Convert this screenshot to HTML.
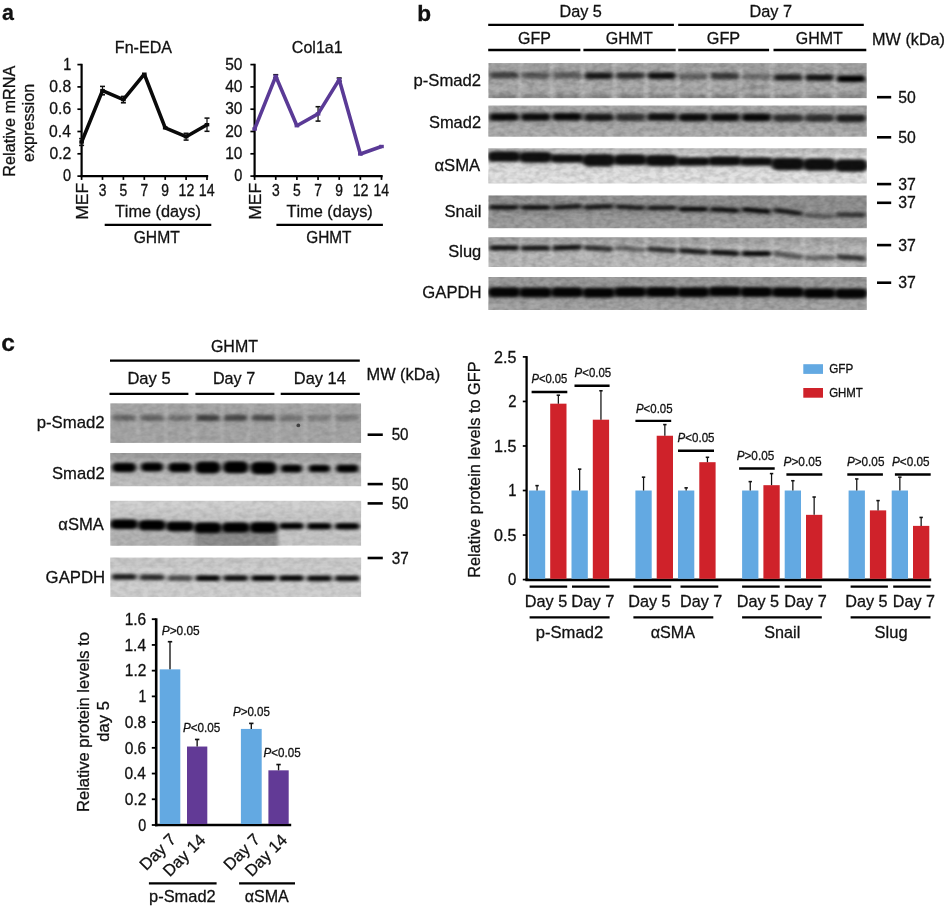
<!DOCTYPE html>
<html lang="en"><head><meta charset="utf-8"><title>Figure</title>
<style>
html,body{margin:0;padding:0;background:#fff;}
body{width:946px;height:906px;overflow:hidden;}
svg{display:block;font-family:"Liberation Sans",Arial,Helvetica,sans-serif;font-kerning:none;}
svg text{font-kerning:none;white-space:pre;}
</style></head><body>
<svg width="946" height="906" viewBox="0 0 946 906">
<defs>
<filter id="noiseD" x="0" y="0" width="100%" height="100%"><feTurbulence type="fractalNoise" baseFrequency="0.14 0.22" numOctaves="2" seed="4" result="t"/><feColorMatrix in="t" type="matrix" values="0 0 0 0 0  0 0 0 0 0  0 0 0 0 0  2.2 0 0 0 -0.75"/></filter>
<filter id="noiseL" x="0" y="0" width="100%" height="100%"><feTurbulence type="fractalNoise" baseFrequency="0.16 0.25" numOctaves="2" seed="11" result="t"/><feColorMatrix in="t" type="matrix" values="0 0 0 0 1  0 0 0 0 1  0 0 0 0 1  0 2.2 0 0 -0.75"/></filter>
<filter id="bl05" x="-50%" y="-50%" width="200%" height="200%"><feGaussianBlur stdDeviation="0.5"/></filter>
<filter id="bl1" x="-30%" y="-150%" width="160%" height="400%"><feGaussianBlur stdDeviation="2.0 1.6"/></filter>
<filter id="bls" x="-200%" y="-10%" width="500%" height="120%"><feGaussianBlur stdDeviation="1.8 0.1"/></filter>
<filter id="bl3" x="-10%" y="-100%" width="120%" height="300%"><feGaussianBlur stdDeviation="2.5"/></filter>
</defs>
<rect width="946" height="906" fill="#fff"/>
<text transform="translate(1.92 20.40) scale(0.9377 1.0000)" font-size="22.80" fill="#111" stroke="#111" stroke-width="0.30"><tspan font-weight="bold">a</tspan></text>
<text transform="translate(417.26 20.50) scale(1.0100 1.0000)" font-size="22.40" fill="#111" stroke="#111" stroke-width="0.28"><tspan font-weight="bold">b</tspan></text>
<text transform="translate(1.29 351.30) scale(1.0696 1.0000)" font-size="23.00" fill="#111" stroke="#111" stroke-width="0.26"><tspan font-weight="bold">c</tspan></text>
<line x1="81.60" y1="63.80" x2="81.60" y2="177.10" stroke="#000" stroke-width="2.20" stroke-linecap="butt"/>
<line x1="80.50" y1="176.10" x2="208.20" y2="176.10" stroke="#000" stroke-width="2.20" stroke-linecap="butt"/>
<line x1="77.40" y1="176.10" x2="81.60" y2="176.10" stroke="#000" stroke-width="1.70" stroke-linecap="butt"/>
<text transform="translate(62.96 181.30) scale(0.9116 1.0000)" font-size="15.90" fill="#111" stroke="#111" stroke-width="0.31"><tspan>0</tspan></text>
<line x1="77.40" y1="153.80" x2="81.60" y2="153.80" stroke="#000" stroke-width="1.70" stroke-linecap="butt"/>
<text transform="translate(49.43 159.00) scale(0.9865 1.0000)" font-size="15.90" fill="#111" stroke="#111" stroke-width="0.28"><tspan>0.2</tspan></text>
<line x1="77.40" y1="131.50" x2="81.60" y2="131.50" stroke="#000" stroke-width="1.70" stroke-linecap="butt"/>
<text transform="translate(49.09 136.70) scale(0.9872 1.0000)" font-size="15.90" fill="#111" stroke="#111" stroke-width="0.28"><tspan>0.4</tspan></text>
<line x1="77.40" y1="109.20" x2="81.60" y2="109.20" stroke="#000" stroke-width="1.70" stroke-linecap="butt"/>
<text transform="translate(49.33 114.40) scale(0.9867 1.0000)" font-size="15.90" fill="#111" stroke="#111" stroke-width="0.28"><tspan>0.6</tspan></text>
<line x1="77.40" y1="86.90" x2="81.60" y2="86.90" stroke="#000" stroke-width="1.70" stroke-linecap="butt"/>
<text transform="translate(49.32 92.10) scale(0.9867 1.0000)" font-size="15.90" fill="#111" stroke="#111" stroke-width="0.28"><tspan>0.8</tspan></text>
<line x1="77.40" y1="64.60" x2="81.60" y2="64.60" stroke="#000" stroke-width="1.70" stroke-linecap="butt"/>
<text transform="translate(63.20 69.80) scale(0.8987 1.0000)" font-size="15.90" fill="#111" stroke="#111" stroke-width="0.31"><tspan>1</tspan></text>
<line x1="81.60" y1="176.10" x2="81.60" y2="179.90" stroke="#000" stroke-width="1.70" stroke-linecap="butt"/>
<line x1="102.50" y1="176.10" x2="102.50" y2="179.90" stroke="#000" stroke-width="1.70" stroke-linecap="butt"/>
<line x1="123.40" y1="176.10" x2="123.40" y2="179.90" stroke="#000" stroke-width="1.70" stroke-linecap="butt"/>
<line x1="144.30" y1="176.10" x2="144.30" y2="179.90" stroke="#000" stroke-width="1.70" stroke-linecap="butt"/>
<line x1="165.20" y1="176.10" x2="165.20" y2="179.90" stroke="#000" stroke-width="1.70" stroke-linecap="butt"/>
<line x1="186.10" y1="176.10" x2="186.10" y2="179.90" stroke="#000" stroke-width="1.70" stroke-linecap="butt"/>
<line x1="207.00" y1="176.10" x2="207.00" y2="179.90" stroke="#000" stroke-width="1.70" stroke-linecap="butt"/>
<text transform="translate(114.83 53.00) scale(0.9450 1.0000)" font-size="17.01" fill="#111" stroke="#111" stroke-width="0.30"><tspan>Fn-EDA</tspan></text>
<line x1="102.50" y1="86.40" x2="102.50" y2="94.80" stroke="#111" stroke-width="1.25" stroke-linecap="butt"/>
<line x1="100.00" y1="86.40" x2="105.00" y2="86.40" stroke="#111" stroke-width="1.55" stroke-linecap="butt"/>
<line x1="100.00" y1="94.80" x2="105.00" y2="94.80" stroke="#111" stroke-width="1.55" stroke-linecap="butt"/>
<line x1="123.40" y1="96.40" x2="123.40" y2="102.80" stroke="#111" stroke-width="1.25" stroke-linecap="butt"/>
<line x1="120.90" y1="96.40" x2="125.90" y2="96.40" stroke="#111" stroke-width="1.55" stroke-linecap="butt"/>
<line x1="120.90" y1="102.80" x2="125.90" y2="102.80" stroke="#111" stroke-width="1.55" stroke-linecap="butt"/>
<line x1="186.10" y1="133.30" x2="186.10" y2="140.10" stroke="#111" stroke-width="1.25" stroke-linecap="butt"/>
<line x1="183.60" y1="133.30" x2="188.60" y2="133.30" stroke="#111" stroke-width="1.55" stroke-linecap="butt"/>
<line x1="183.60" y1="140.10" x2="188.60" y2="140.10" stroke="#111" stroke-width="1.55" stroke-linecap="butt"/>
<line x1="207.00" y1="118.10" x2="207.00" y2="131.30" stroke="#111" stroke-width="1.25" stroke-linecap="butt"/>
<line x1="204.50" y1="118.10" x2="209.50" y2="118.10" stroke="#111" stroke-width="1.55" stroke-linecap="butt"/>
<line x1="204.50" y1="131.30" x2="209.50" y2="131.30" stroke="#111" stroke-width="1.55" stroke-linecap="butt"/>
<line x1="81.60" y1="138.60" x2="81.60" y2="145.40" stroke="#111" stroke-width="1.25" stroke-linecap="butt"/>
<line x1="79.10" y1="138.60" x2="84.10" y2="138.60" stroke="#111" stroke-width="1.55" stroke-linecap="butt"/>
<line x1="79.10" y1="145.40" x2="84.10" y2="145.40" stroke="#111" stroke-width="1.55" stroke-linecap="butt"/>
<polyline fill="none" stroke="#0a0a0a" stroke-width="3.6" stroke-linejoin="bevel" stroke-linecap="butt" points="81.60,142.00 102.50,90.60 123.40,99.60 144.30,74.20 165.20,127.80 186.10,136.70 207.00,124.70"/>
<rect x="79.30" y="140.30" width="4.6" height="3.4" fill="#0a0a0a"/>
<rect x="100.20" y="88.90" width="4.6" height="3.4" fill="#0a0a0a"/>
<rect x="121.10" y="97.90" width="4.6" height="3.4" fill="#0a0a0a"/>
<rect x="142.00" y="72.50" width="4.6" height="3.4" fill="#0a0a0a"/>
<rect x="162.90" y="126.10" width="4.6" height="3.4" fill="#0a0a0a"/>
<rect x="183.80" y="135.00" width="4.6" height="3.4" fill="#0a0a0a"/>
<rect x="204.70" y="123.00" width="4.6" height="3.4" fill="#0a0a0a"/>
<text transform="translate(98.67 195.60) scale(0.8799 1.0000)" font-size="15.80" fill="#111" stroke="#111" stroke-width="0.32"><tspan>3</tspan></text>
<text transform="translate(119.55 195.60) scale(0.8799 1.0000)" font-size="15.80" fill="#111" stroke="#111" stroke-width="0.32"><tspan>5</tspan></text>
<text transform="translate(140.45 195.60) scale(0.8747 1.0000)" font-size="15.80" fill="#111" stroke="#111" stroke-width="0.32"><tspan>7</tspan></text>
<text transform="translate(161.35 195.60) scale(0.8767 1.0000)" font-size="15.80" fill="#111" stroke="#111" stroke-width="0.32"><tspan>9</tspan></text>
<text transform="translate(178.58 195.60) scale(0.8924 1.0000)" font-size="15.80" fill="#111" stroke="#111" stroke-width="0.31"><tspan>12</tspan></text>
<text transform="translate(198.77 195.60) scale(0.8989 1.0000)" font-size="15.80" fill="#111" stroke="#111" stroke-width="0.31"><tspan>14</tspan></text>
<text transform="translate(88.00 218.40) rotate(-90.0) scale(1.0731 1.0000) translate(-1.35 0)" font-size="16.40" fill="#111" stroke="#111" stroke-width="0.26"><tspan>MEF</tspan></text>
<text transform="translate(114.88 217.40) scale(1.0441 1.0000)" font-size="15.60" fill="#111" stroke="#111" stroke-width="0.27"><tspan>Time (days)</tspan></text>
<line x1="104.70" y1="224.90" x2="211.30" y2="224.90" stroke="#000" stroke-width="2.30" stroke-linecap="butt"/>
<text transform="translate(133.66 243.00) scale(0.9331 1.0000)" font-size="16.80" fill="#111" stroke="#111" stroke-width="0.30"><tspan>GHMT</tspan></text>
<line x1="254.60" y1="63.80" x2="254.60" y2="177.10" stroke="#000" stroke-width="2.20" stroke-linecap="butt"/>
<line x1="253.50" y1="176.10" x2="382.70" y2="176.10" stroke="#000" stroke-width="2.20" stroke-linecap="butt"/>
<line x1="250.40" y1="176.10" x2="254.60" y2="176.10" stroke="#000" stroke-width="1.70" stroke-linecap="butt"/>
<text transform="translate(234.36 181.30) scale(0.9116 1.0000)" font-size="15.90" fill="#111" stroke="#111" stroke-width="0.31"><tspan>0</tspan></text>
<line x1="250.40" y1="153.80" x2="254.60" y2="153.80" stroke="#000" stroke-width="1.70" stroke-linecap="butt"/>
<text transform="translate(225.24 159.00) scale(0.9732 1.0000)" font-size="15.90" fill="#111" stroke="#111" stroke-width="0.29"><tspan>10</tspan></text>
<line x1="250.40" y1="131.50" x2="254.60" y2="131.50" stroke="#000" stroke-width="1.70" stroke-linecap="butt"/>
<text transform="translate(225.22 136.70) scale(0.9747 1.0000)" font-size="15.90" fill="#111" stroke="#111" stroke-width="0.29"><tspan>20</tspan></text>
<line x1="250.40" y1="109.20" x2="254.60" y2="109.20" stroke="#000" stroke-width="1.70" stroke-linecap="butt"/>
<text transform="translate(225.21 114.40) scale(0.9753 1.0000)" font-size="15.90" fill="#111" stroke="#111" stroke-width="0.29"><tspan>30</tspan></text>
<line x1="250.40" y1="86.90" x2="254.60" y2="86.90" stroke="#000" stroke-width="1.70" stroke-linecap="butt"/>
<text transform="translate(225.19 92.10) scale(0.9761 1.0000)" font-size="15.90" fill="#111" stroke="#111" stroke-width="0.29"><tspan>40</tspan></text>
<line x1="250.40" y1="64.60" x2="254.60" y2="64.60" stroke="#000" stroke-width="1.70" stroke-linecap="butt"/>
<text transform="translate(225.21 69.80) scale(0.9752 1.0000)" font-size="15.90" fill="#111" stroke="#111" stroke-width="0.29"><tspan>50</tspan></text>
<line x1="254.60" y1="176.10" x2="254.60" y2="179.90" stroke="#000" stroke-width="1.70" stroke-linecap="butt"/>
<line x1="275.75" y1="176.10" x2="275.75" y2="179.90" stroke="#000" stroke-width="1.70" stroke-linecap="butt"/>
<line x1="296.90" y1="176.10" x2="296.90" y2="179.90" stroke="#000" stroke-width="1.70" stroke-linecap="butt"/>
<line x1="318.05" y1="176.10" x2="318.05" y2="179.90" stroke="#000" stroke-width="1.70" stroke-linecap="butt"/>
<line x1="339.20" y1="176.10" x2="339.20" y2="179.90" stroke="#000" stroke-width="1.70" stroke-linecap="butt"/>
<line x1="360.35" y1="176.10" x2="360.35" y2="179.90" stroke="#000" stroke-width="1.70" stroke-linecap="butt"/>
<line x1="381.50" y1="176.10" x2="381.50" y2="179.90" stroke="#000" stroke-width="1.70" stroke-linecap="butt"/>
<text transform="translate(291.84 53.00) scale(0.9426 1.0000)" font-size="17.01" fill="#111" stroke="#111" stroke-width="0.30"><tspan>Col1a1</tspan></text>
<line x1="318.05" y1="106.70" x2="318.05" y2="121.10" stroke="#111" stroke-width="1.25" stroke-linecap="butt"/>
<line x1="315.55" y1="106.70" x2="320.55" y2="106.70" stroke="#111" stroke-width="1.55" stroke-linecap="butt"/>
<line x1="315.55" y1="121.10" x2="320.55" y2="121.10" stroke="#111" stroke-width="1.55" stroke-linecap="butt"/>
<line x1="275.75" y1="74.70" x2="275.75" y2="77.90" stroke="#111" stroke-width="1.25" stroke-linecap="butt"/>
<line x1="273.25" y1="74.70" x2="278.25" y2="74.70" stroke="#111" stroke-width="1.55" stroke-linecap="butt"/>
<line x1="273.25" y1="77.90" x2="278.25" y2="77.90" stroke="#111" stroke-width="1.55" stroke-linecap="butt"/>
<line x1="339.20" y1="78.00" x2="339.20" y2="81.20" stroke="#111" stroke-width="1.25" stroke-linecap="butt"/>
<line x1="336.70" y1="78.00" x2="341.70" y2="78.00" stroke="#111" stroke-width="1.55" stroke-linecap="butt"/>
<line x1="336.70" y1="81.20" x2="341.70" y2="81.20" stroke="#111" stroke-width="1.55" stroke-linecap="butt"/>
<polyline fill="none" stroke="#5a3a96" stroke-width="3.6" stroke-linejoin="bevel" stroke-linecap="butt" points="254.60,129.00 275.75,76.30 296.90,125.70 318.05,113.90 339.20,79.60 360.35,154.00 381.50,146.50"/>
<rect x="252.30" y="127.30" width="4.6" height="3.4" fill="#5a3a96"/>
<rect x="273.45" y="74.60" width="4.6" height="3.4" fill="#5a3a96"/>
<rect x="294.60" y="124.00" width="4.6" height="3.4" fill="#5a3a96"/>
<rect x="315.75" y="112.20" width="4.6" height="3.4" fill="#5a3a96"/>
<rect x="336.90" y="77.90" width="4.6" height="3.4" fill="#5a3a96"/>
<rect x="358.05" y="152.30" width="4.6" height="3.4" fill="#5a3a96"/>
<rect x="379.20" y="144.80" width="4.6" height="3.4" fill="#5a3a96"/>
<text transform="translate(271.92 195.60) scale(0.8799 1.0000)" font-size="15.80" fill="#111" stroke="#111" stroke-width="0.32"><tspan>3</tspan></text>
<text transform="translate(293.05 195.60) scale(0.8799 1.0000)" font-size="15.80" fill="#111" stroke="#111" stroke-width="0.32"><tspan>5</tspan></text>
<text transform="translate(314.20 195.60) scale(0.8747 1.0000)" font-size="15.80" fill="#111" stroke="#111" stroke-width="0.32"><tspan>7</tspan></text>
<text transform="translate(335.35 195.60) scale(0.8767 1.0000)" font-size="15.80" fill="#111" stroke="#111" stroke-width="0.32"><tspan>9</tspan></text>
<text transform="translate(352.66 195.60) scale(0.9052 1.0000)" font-size="15.80" fill="#111" stroke="#111" stroke-width="0.31"><tspan>12</tspan></text>
<text transform="translate(373.48 195.60) scale(0.8863 1.0000)" font-size="15.80" fill="#111" stroke="#111" stroke-width="0.32"><tspan>14</tspan></text>
<text transform="translate(260.80 218.40) rotate(-90.0) scale(1.0731 1.0000) translate(-1.35 0)" font-size="16.40" fill="#111" stroke="#111" stroke-width="0.26"><tspan>MEF</tspan></text>
<text transform="translate(286.48 217.40) scale(1.0491 1.0000)" font-size="15.60" fill="#111" stroke="#111" stroke-width="0.27"><tspan>Time (days)</tspan></text>
<line x1="276.40" y1="224.90" x2="382.90" y2="224.90" stroke="#000" stroke-width="2.30" stroke-linecap="butt"/>
<text transform="translate(306.18 243.00) scale(0.9165 1.0000)" font-size="16.80" fill="#111" stroke="#111" stroke-width="0.31"><tspan>GHMT</tspan></text>
<text transform="translate(14.60 175.40) rotate(-90.0) scale(0.9798 1.0000) translate(-1.36 0)" font-size="16.60" fill="#111" stroke="#111" stroke-width="0.29"><tspan>Relative mRNA</tspan></text>
<text transform="translate(33.90 161.40) rotate(-90.0) scale(0.9759 1.0000) translate(-0.71 0)" font-size="16.60" fill="#111" stroke="#111" stroke-width="0.29"><tspan>expression</tspan></text>
<clipPath id="cpb1"><rect x="488.30" y="63.10" width="378.50" height="35.20"/></clipPath>
<g clip-path="url(#cpb1)">
<rect x="488.30" y="63.10" width="378.50" height="35.20" fill="#a0a0a0" />
<rect x="483.30" y="82.00" width="388.50" height="12.00" fill="#b4b4b4" opacity="0.45" filter="url(#bl3)"/>
<rect x="517.84" y="60.10" width="4.0" height="41.20" fill="#cfcfcf" opacity="0.42" filter="url(#bls)"/>
<rect x="549.38" y="60.10" width="4.0" height="41.20" fill="#cfcfcf" opacity="0.42" filter="url(#bls)"/>
<rect x="580.92" y="60.10" width="4.0" height="41.20" fill="#cfcfcf" opacity="0.42" filter="url(#bls)"/>
<rect x="612.47" y="60.10" width="4.0" height="41.20" fill="#cfcfcf" opacity="0.42" filter="url(#bls)"/>
<rect x="644.01" y="60.10" width="4.0" height="41.20" fill="#cfcfcf" opacity="0.42" filter="url(#bls)"/>
<rect x="675.55" y="60.10" width="4.0" height="41.20" fill="#cfcfcf" opacity="0.42" filter="url(#bls)"/>
<rect x="707.09" y="60.10" width="4.0" height="41.20" fill="#cfcfcf" opacity="0.42" filter="url(#bls)"/>
<rect x="738.63" y="60.10" width="4.0" height="41.20" fill="#cfcfcf" opacity="0.42" filter="url(#bls)"/>
<rect x="770.17" y="60.10" width="4.0" height="41.20" fill="#cfcfcf" opacity="0.42" filter="url(#bls)"/>
<rect x="801.72" y="60.10" width="4.0" height="41.20" fill="#cfcfcf" opacity="0.42" filter="url(#bls)"/>
<rect x="833.26" y="60.10" width="4.0" height="41.20" fill="#cfcfcf" opacity="0.42" filter="url(#bls)"/>
<path d="M738 91 q12 -6 30 -4" stroke="#555" stroke-width="1.6" fill="none" opacity="0.6" filter="url(#bl1)"/>
<rect x="488.30" y="63.10" width="378.50" height="35.20" filter="url(#noiseD)" opacity="0.136"/>
<rect x="488.30" y="63.10" width="378.50" height="35.20" filter="url(#noiseL)" opacity="0.111"/>
<rect x="489.88" y="71.90" width="28.39" height="6.40" rx="3.20" fill="#000" opacity="0.61" filter="url(#bl1)" transform="rotate(0.0 504.07 75.10)"/>
<rect x="521.42" y="72.30" width="28.39" height="6.40" rx="3.20" fill="#000" opacity="0.46" filter="url(#bl1)" transform="rotate(0.0 535.61 75.50)"/>
<rect x="552.96" y="72.10" width="28.39" height="6.40" rx="3.20" fill="#000" opacity="0.44" filter="url(#bl1)" transform="rotate(0.0 567.15 75.30)"/>
<rect x="584.50" y="72.60" width="28.39" height="6.40" rx="3.20" fill="#000" opacity="0.86" filter="url(#bl1)" transform="rotate(0.0 598.70 75.80)"/>
<rect x="616.04" y="72.40" width="28.39" height="6.40" rx="3.20" fill="#000" opacity="0.73" filter="url(#bl1)" transform="rotate(0.0 630.24 75.60)"/>
<rect x="647.59" y="72.60" width="28.39" height="6.40" rx="3.20" fill="#000" opacity="0.90" filter="url(#bl1)" transform="rotate(0.0 661.78 75.80)"/>
<rect x="679.13" y="73.20" width="28.39" height="6.40" rx="3.20" fill="#000" opacity="0.40" filter="url(#bl1)" transform="rotate(0.0 693.32 76.40)"/>
<rect x="710.67" y="72.80" width="28.39" height="6.40" rx="3.20" fill="#000" opacity="0.66" filter="url(#bl1)" transform="rotate(0.0 724.86 76.00)"/>
<rect x="742.21" y="73.40" width="28.39" height="6.40" rx="3.20" fill="#000" opacity="0.33" filter="url(#bl1)" transform="rotate(0.0 756.40 76.60)"/>
<rect x="773.75" y="74.20" width="28.39" height="6.40" rx="3.20" fill="#000" opacity="0.81" filter="url(#bl1)" transform="rotate(0.0 787.95 77.40)"/>
<rect x="805.29" y="74.40" width="28.39" height="6.40" rx="3.20" fill="#000" opacity="0.88" filter="url(#bl1)" transform="rotate(0.0 819.49 77.60)"/>
<rect x="836.84" y="75.60" width="28.39" height="6.40" rx="3.20" fill="#000" opacity="1.00" filter="url(#bl1)" transform="rotate(0.0 851.03 78.80)"/>
<rect x="491.45" y="94.85" width="25.23" height="3.50" rx="1.75" fill="#000" opacity="0.22" filter="url(#bl1)" transform="rotate(0.0 504.07 96.60)"/>
<rect x="523.00" y="94.85" width="25.23" height="3.50" rx="1.75" fill="#000" opacity="0.22" filter="url(#bl1)" transform="rotate(0.0 535.61 96.60)"/>
<rect x="554.54" y="94.85" width="25.23" height="3.50" rx="1.75" fill="#000" opacity="0.22" filter="url(#bl1)" transform="rotate(0.0 567.15 96.60)"/>
<rect x="586.08" y="94.85" width="25.23" height="3.50" rx="1.75" fill="#000" opacity="0.22" filter="url(#bl1)" transform="rotate(0.0 598.70 96.60)"/>
<rect x="617.62" y="94.85" width="25.23" height="3.50" rx="1.75" fill="#000" opacity="0.22" filter="url(#bl1)" transform="rotate(0.0 630.24 96.60)"/>
<rect x="649.16" y="94.85" width="25.23" height="3.50" rx="1.75" fill="#000" opacity="0.22" filter="url(#bl1)" transform="rotate(0.0 661.78 96.60)"/>
<rect x="680.70" y="94.85" width="25.23" height="3.50" rx="1.75" fill="#000" opacity="0.22" filter="url(#bl1)" transform="rotate(0.0 693.32 96.60)"/>
<rect x="712.25" y="94.85" width="25.23" height="3.50" rx="1.75" fill="#000" opacity="0.22" filter="url(#bl1)" transform="rotate(0.0 724.86 96.60)"/>
<rect x="743.79" y="94.85" width="25.23" height="3.50" rx="1.75" fill="#000" opacity="0.22" filter="url(#bl1)" transform="rotate(0.0 756.40 96.60)"/>
<rect x="775.33" y="94.85" width="25.23" height="3.50" rx="1.75" fill="#000" opacity="0.22" filter="url(#bl1)" transform="rotate(0.0 787.95 96.60)"/>
<rect x="806.87" y="94.85" width="25.23" height="3.50" rx="1.75" fill="#000" opacity="0.22" filter="url(#bl1)" transform="rotate(0.0 819.49 96.60)"/>
<rect x="838.41" y="94.85" width="25.23" height="3.50" rx="1.75" fill="#000" opacity="0.22" filter="url(#bl1)" transform="rotate(0.0 851.03 96.60)"/>
</g>
<clipPath id="cpb2"><rect x="488.30" y="105.40" width="378.50" height="31.30"/></clipPath>
<g clip-path="url(#cpb2)">
<rect x="488.30" y="105.40" width="378.50" height="31.30" fill="#9e9e9e" />
<rect x="483.30" y="124.00" width="388.50" height="16.00" fill="#b4b4b4" opacity="0.60" filter="url(#bl3)"/>
<rect x="483.30" y="102.00" width="388.50" height="8.00" fill="#b0b0b0" opacity="0.50" filter="url(#bl3)"/>
<rect x="488.30" y="105.40" width="378.50" height="31.30" filter="url(#noiseD)" opacity="0.136"/>
<rect x="488.30" y="105.40" width="378.50" height="31.30" filter="url(#noiseL)" opacity="0.111"/>
<rect x="489.25" y="113.20" width="29.65" height="7.60" rx="3.80" fill="#000" opacity="0.95" filter="url(#bl1)" transform="rotate(0.0 504.07 117.00)"/>
<rect x="520.79" y="113.20" width="29.65" height="7.60" rx="3.80" fill="#000" opacity="0.92" filter="url(#bl1)" transform="rotate(0.0 535.61 117.00)"/>
<rect x="552.33" y="113.00" width="29.65" height="7.60" rx="3.80" fill="#000" opacity="0.95" filter="url(#bl1)" transform="rotate(0.0 567.15 116.80)"/>
<rect x="583.87" y="113.40" width="29.65" height="7.60" rx="3.80" fill="#000" opacity="0.85" filter="url(#bl1)" transform="rotate(0.0 598.70 117.20)"/>
<rect x="615.41" y="113.40" width="29.65" height="7.60" rx="3.80" fill="#000" opacity="0.70" filter="url(#bl1)" transform="rotate(0.0 630.24 117.20)"/>
<rect x="646.95" y="113.20" width="29.65" height="7.60" rx="3.80" fill="#000" opacity="0.90" filter="url(#bl1)" transform="rotate(0.0 661.78 117.00)"/>
<rect x="678.50" y="113.60" width="29.65" height="7.60" rx="3.80" fill="#000" opacity="0.92" filter="url(#bl1)" transform="rotate(0.0 693.32 117.40)"/>
<rect x="710.04" y="113.60" width="29.65" height="7.60" rx="3.80" fill="#000" opacity="0.92" filter="url(#bl1)" transform="rotate(0.0 724.86 117.40)"/>
<rect x="741.58" y="113.60" width="29.65" height="7.60" rx="3.80" fill="#000" opacity="0.95" filter="url(#bl1)" transform="rotate(0.0 756.40 117.40)"/>
<rect x="773.12" y="114.20" width="29.65" height="7.60" rx="3.80" fill="#000" opacity="0.72" filter="url(#bl1)" transform="rotate(0.0 787.95 118.00)"/>
<rect x="804.66" y="114.20" width="29.65" height="7.60" rx="3.80" fill="#000" opacity="0.70" filter="url(#bl1)" transform="rotate(0.0 819.49 118.00)"/>
<rect x="836.20" y="114.60" width="29.65" height="7.60" rx="3.80" fill="#000" opacity="0.82" filter="url(#bl1)" transform="rotate(0.0 851.03 118.40)"/>
</g>
<clipPath id="cpb3"><rect x="488.30" y="148.20" width="378.50" height="35.30"/></clipPath>
<g clip-path="url(#cpb3)">
<rect x="488.30" y="148.20" width="378.50" height="35.30" fill="#dadada" />
<rect x="483.30" y="143.00" width="388.50" height="10.00" fill="#9a9a9a" opacity="0.50" filter="url(#bl3)"/>
<rect x="483.30" y="172.00" width="388.50" height="18.00" fill="#e6e6e6" opacity="0.70" filter="url(#bl3)"/>
<rect x="488.30" y="148.20" width="378.50" height="35.30" filter="url(#noiseD)" opacity="0.136"/>
<rect x="488.30" y="148.20" width="378.50" height="35.30" filter="url(#noiseL)" opacity="0.111"/>
<rect x="487.04" y="151.35" width="34.06" height="10.50" rx="5.25" fill="#000" opacity="0.93" filter="url(#bl1)" transform="rotate(0.0 504.07 156.60)"/>
<rect x="518.58" y="151.70" width="34.06" height="11.00" rx="5.50" fill="#000" opacity="0.93" filter="url(#bl1)" transform="rotate(0.0 535.61 157.20)"/>
<rect x="550.12" y="154.35" width="34.06" height="8.50" rx="4.25" fill="#000" opacity="0.93" filter="url(#bl1)" transform="rotate(0.0 567.15 158.60)"/>
<rect x="581.66" y="153.95" width="34.06" height="12.50" rx="6.25" fill="#000" opacity="0.93" filter="url(#bl1)" transform="rotate(0.0 598.70 160.20)"/>
<rect x="613.20" y="154.30" width="34.06" height="11.00" rx="5.50" fill="#000" opacity="0.93" filter="url(#bl1)" transform="rotate(0.0 630.24 159.80)"/>
<rect x="644.75" y="154.65" width="34.06" height="11.50" rx="5.75" fill="#000" opacity="0.93" filter="url(#bl1)" transform="rotate(0.0 661.78 160.40)"/>
<rect x="676.29" y="157.35" width="34.06" height="8.50" rx="4.25" fill="#000" opacity="0.93" filter="url(#bl1)" transform="rotate(0.0 693.32 161.60)"/>
<rect x="707.83" y="156.25" width="34.06" height="9.50" rx="4.75" fill="#000" opacity="0.93" filter="url(#bl1)" transform="rotate(0.0 724.86 161.00)"/>
<rect x="739.37" y="157.35" width="34.06" height="8.50" rx="4.25" fill="#000" opacity="0.93" filter="url(#bl1)" transform="rotate(0.0 756.40 161.60)"/>
<rect x="770.91" y="157.75" width="34.06" height="12.50" rx="6.25" fill="#000" opacity="0.93" filter="url(#bl1)" transform="rotate(0.0 787.95 164.00)"/>
<rect x="802.45" y="158.35" width="34.06" height="12.50" rx="6.25" fill="#000" opacity="0.93" filter="url(#bl1)" transform="rotate(0.0 819.49 164.60)"/>
<rect x="834.00" y="159.35" width="34.06" height="12.50" rx="6.25" fill="#000" opacity="0.93" filter="url(#bl1)" transform="rotate(0.0 851.03 165.60)"/>
</g>
<clipPath id="cpb4"><rect x="488.30" y="195.30" width="378.50" height="33.00"/></clipPath>
<g clip-path="url(#cpb4)">
<rect x="488.30" y="195.30" width="378.50" height="33.00" fill="#8e8e8e" />
<rect x="483.30" y="216.00" width="388.50" height="16.00" fill="#a4a4a4" opacity="0.60" filter="url(#bl3)"/>
<rect x="488.30" y="195.30" width="378.50" height="33.00" filter="url(#noiseD)" opacity="0.136"/>
<rect x="488.30" y="195.30" width="378.50" height="33.00" filter="url(#noiseL)" opacity="0.111"/>
<rect x="489.25" y="204.90" width="29.65" height="4.80" rx="2.40" fill="#000" opacity="0.89" filter="url(#bl1)" transform="rotate(0.0 504.07 207.30)"/>
<rect x="520.79" y="205.10" width="29.65" height="4.80" rx="2.40" fill="#000" opacity="0.86" filter="url(#bl1)" transform="rotate(0.0 535.61 207.50)"/>
<rect x="552.33" y="204.50" width="29.65" height="4.80" rx="2.40" fill="#000" opacity="0.86" filter="url(#bl1)" transform="rotate(-3.0 567.15 206.90)"/>
<rect x="583.87" y="204.50" width="29.65" height="4.80" rx="2.40" fill="#000" opacity="0.86" filter="url(#bl1)" transform="rotate(-3.0 598.70 206.90)"/>
<rect x="615.41" y="204.90" width="29.65" height="4.80" rx="2.40" fill="#000" opacity="0.82" filter="url(#bl1)" transform="rotate(3.0 630.24 207.30)"/>
<rect x="646.95" y="205.50" width="29.65" height="4.80" rx="2.40" fill="#000" opacity="0.84" filter="url(#bl1)" transform="rotate(0.0 661.78 207.90)"/>
<rect x="678.50" y="206.70" width="29.65" height="4.80" rx="2.40" fill="#000" opacity="0.95" filter="url(#bl1)" transform="rotate(0.0 693.32 209.10)"/>
<rect x="710.04" y="207.50" width="29.65" height="4.80" rx="2.40" fill="#000" opacity="0.92" filter="url(#bl1)" transform="rotate(3.0 724.86 209.90)"/>
<rect x="741.58" y="208.10" width="29.65" height="4.80" rx="2.40" fill="#000" opacity="0.92" filter="url(#bl1)" transform="rotate(5.0 756.40 210.50)"/>
<rect x="773.12" y="209.50" width="29.65" height="4.80" rx="2.40" fill="#000" opacity="0.86" filter="url(#bl1)" transform="rotate(8.0 787.95 211.90)"/>
<rect x="804.66" y="213.70" width="29.65" height="4.80" rx="2.40" fill="#000" opacity="0.41" filter="url(#bl1)" transform="rotate(3.0 819.49 216.10)"/>
<rect x="836.20" y="212.50" width="29.65" height="4.80" rx="2.40" fill="#000" opacity="0.67" filter="url(#bl1)" transform="rotate(0.0 851.03 214.90)"/>
</g>
<clipPath id="cpb5"><rect x="488.30" y="237.20" width="378.50" height="29.80"/></clipPath>
<g clip-path="url(#cpb5)">
<rect x="488.30" y="237.20" width="378.50" height="29.80" fill="#b6b6b6" />
<rect x="483.30" y="234.00" width="388.50" height="10.00" fill="#8e8e8e" opacity="0.55" filter="url(#bl3)"/>
<rect x="517.84" y="234.20" width="4.0" height="35.80" fill="#dadada" opacity="0.35" filter="url(#bls)"/>
<rect x="549.38" y="234.20" width="4.0" height="35.80" fill="#dadada" opacity="0.35" filter="url(#bls)"/>
<rect x="580.92" y="234.20" width="4.0" height="35.80" fill="#dadada" opacity="0.35" filter="url(#bls)"/>
<rect x="612.47" y="234.20" width="4.0" height="35.80" fill="#dadada" opacity="0.35" filter="url(#bls)"/>
<rect x="644.01" y="234.20" width="4.0" height="35.80" fill="#dadada" opacity="0.35" filter="url(#bls)"/>
<rect x="675.55" y="234.20" width="4.0" height="35.80" fill="#dadada" opacity="0.35" filter="url(#bls)"/>
<rect x="707.09" y="234.20" width="4.0" height="35.80" fill="#dadada" opacity="0.35" filter="url(#bls)"/>
<rect x="738.63" y="234.20" width="4.0" height="35.80" fill="#dadada" opacity="0.35" filter="url(#bls)"/>
<rect x="770.17" y="234.20" width="4.0" height="35.80" fill="#dadada" opacity="0.35" filter="url(#bls)"/>
<rect x="801.72" y="234.20" width="4.0" height="35.80" fill="#dadada" opacity="0.35" filter="url(#bls)"/>
<rect x="833.26" y="234.20" width="4.0" height="35.80" fill="#dadada" opacity="0.35" filter="url(#bls)"/>
<rect x="488.30" y="237.20" width="378.50" height="29.80" filter="url(#noiseD)" opacity="0.136"/>
<rect x="488.30" y="237.20" width="378.50" height="29.80" filter="url(#noiseL)" opacity="0.111"/>
<rect x="489.25" y="245.30" width="29.65" height="5.20" rx="2.60" fill="#000" opacity="0.90" filter="url(#bl1)" transform="rotate(0.0 504.07 247.90)"/>
<rect x="520.79" y="245.50" width="29.65" height="5.20" rx="2.60" fill="#000" opacity="0.87" filter="url(#bl1)" transform="rotate(0.0 535.61 248.10)"/>
<rect x="552.33" y="245.10" width="29.65" height="5.20" rx="2.60" fill="#000" opacity="0.90" filter="url(#bl1)" transform="rotate(-2.0 567.15 247.70)"/>
<rect x="583.87" y="245.70" width="29.65" height="5.20" rx="2.60" fill="#000" opacity="0.74" filter="url(#bl1)" transform="rotate(3.0 598.70 248.30)"/>
<rect x="615.41" y="246.30" width="29.65" height="5.20" rx="2.60" fill="#000" opacity="0.45" filter="url(#bl1)" transform="rotate(5.0 630.24 248.90)"/>
<rect x="646.95" y="247.30" width="29.65" height="5.20" rx="2.60" fill="#000" opacity="0.76" filter="url(#bl1)" transform="rotate(4.0 661.78 249.90)"/>
<rect x="678.50" y="248.70" width="29.65" height="5.20" rx="2.60" fill="#000" opacity="0.85" filter="url(#bl1)" transform="rotate(4.0 693.32 251.30)"/>
<rect x="710.04" y="250.30" width="29.65" height="5.20" rx="2.60" fill="#000" opacity="0.93" filter="url(#bl1)" transform="rotate(3.0 724.86 252.90)"/>
<rect x="741.58" y="251.10" width="29.65" height="5.20" rx="2.60" fill="#000" opacity="0.95" filter="url(#bl1)" transform="rotate(0.0 756.40 253.70)"/>
<rect x="773.12" y="252.70" width="29.65" height="5.20" rx="2.60" fill="#000" opacity="0.53" filter="url(#bl1)" transform="rotate(8.0 787.95 255.30)"/>
<rect x="804.66" y="255.30" width="29.65" height="5.20" rx="2.60" fill="#000" opacity="0.42" filter="url(#bl1)" transform="rotate(0.0 819.49 257.90)"/>
<rect x="836.20" y="255.10" width="29.65" height="5.20" rx="2.60" fill="#000" opacity="0.72" filter="url(#bl1)" transform="rotate(3.0 851.03 257.70)"/>
</g>
<clipPath id="cpb6"><rect x="488.30" y="277.00" width="378.50" height="33.00"/></clipPath>
<g clip-path="url(#cpb6)">
<rect x="488.30" y="277.00" width="378.50" height="33.00" fill="#989898" />
<rect x="483.30" y="302.00" width="388.50" height="12.00" fill="#ababab" opacity="0.60" filter="url(#bl3)"/>
<rect x="488.30" y="277.00" width="378.50" height="33.00" filter="url(#noiseD)" opacity="0.136"/>
<rect x="488.30" y="277.00" width="378.50" height="33.00" filter="url(#noiseL)" opacity="0.111"/>
<rect x="487.35" y="287.20" width="33.43" height="10.00" rx="5.00" fill="#000" opacity="0.97" filter="url(#bl1)" transform="rotate(0.0 504.07 292.20)"/>
<rect x="518.90" y="287.60" width="33.43" height="10.00" rx="5.00" fill="#000" opacity="0.97" filter="url(#bl1)" transform="rotate(0.0 535.61 292.60)"/>
<rect x="550.44" y="287.20" width="33.43" height="10.00" rx="5.00" fill="#000" opacity="0.97" filter="url(#bl1)" transform="rotate(0.0 567.15 292.20)"/>
<rect x="581.98" y="287.80" width="33.43" height="10.00" rx="5.00" fill="#000" opacity="0.97" filter="url(#bl1)" transform="rotate(0.0 598.70 292.80)"/>
<rect x="613.52" y="287.00" width="33.43" height="10.00" rx="5.00" fill="#000" opacity="0.97" filter="url(#bl1)" transform="rotate(0.0 630.24 292.00)"/>
<rect x="645.06" y="287.00" width="33.43" height="10.00" rx="5.00" fill="#000" opacity="0.97" filter="url(#bl1)" transform="rotate(0.0 661.78 292.00)"/>
<rect x="676.60" y="287.20" width="33.43" height="10.00" rx="5.00" fill="#000" opacity="0.97" filter="url(#bl1)" transform="rotate(0.0 693.32 292.20)"/>
<rect x="708.15" y="286.60" width="33.43" height="10.00" rx="5.00" fill="#000" opacity="0.97" filter="url(#bl1)" transform="rotate(0.0 724.86 291.60)"/>
<rect x="739.69" y="287.00" width="33.43" height="10.00" rx="5.00" fill="#000" opacity="0.97" filter="url(#bl1)" transform="rotate(0.0 756.40 292.00)"/>
<rect x="771.23" y="287.20" width="33.43" height="10.00" rx="5.00" fill="#000" opacity="0.97" filter="url(#bl1)" transform="rotate(0.0 787.95 292.20)"/>
<rect x="802.77" y="288.20" width="33.43" height="10.00" rx="5.00" fill="#000" opacity="0.97" filter="url(#bl1)" transform="rotate(0.0 819.49 293.20)"/>
<rect x="834.31" y="288.40" width="33.43" height="10.00" rx="5.00" fill="#000" opacity="0.97" filter="url(#bl1)" transform="rotate(0.0 851.03 293.40)"/>
</g>
<text transform="translate(413.58 86.40) scale(1.0270 1.0000)" font-size="16.20" fill="#111" stroke="#111" stroke-width="0.27"><tspan>p-Smad2</tspan></text>
<text transform="translate(429.00 128.30) scale(1.0145 1.0000)" font-size="16.20" fill="#111" stroke="#111" stroke-width="0.28"><tspan>Smad2</tspan></text>
<text transform="translate(434.45 170.90) scale(1.0306 1.0000)" font-size="16.20" fill="#111" stroke="#111" stroke-width="0.27"><tspan>αSMA</tspan></text>
<text transform="translate(444.40 217.40) scale(1.0262 1.0000)" font-size="16.20" fill="#111" stroke="#111" stroke-width="0.27"><tspan>Snail</tspan></text>
<text transform="translate(448.30 257.20) scale(1.0181 1.0000)" font-size="16.20" fill="#111" stroke="#111" stroke-width="0.28"><tspan>Slug</tspan></text>
<text transform="translate(422.31 297.70) scale(1.0293 1.0000)" font-size="16.20" fill="#111" stroke="#111" stroke-width="0.27"><tspan>GAPDH</tspan></text>
<text transform="translate(559.41 17.20) scale(0.9805 1.0000)" font-size="16.60" fill="#111" stroke="#111" stroke-width="0.29"><tspan>Day 5</tspan></text>
<text transform="translate(749.41 17.20) scale(0.9838 1.0000)" font-size="16.60" fill="#111" stroke="#111" stroke-width="0.28"><tspan>Day 7</tspan></text>
<line x1="488.20" y1="24.90" x2="673.90" y2="24.90" stroke="#000" stroke-width="2.20" stroke-linecap="butt"/>
<line x1="678.20" y1="24.90" x2="863.80" y2="24.90" stroke="#000" stroke-width="2.20" stroke-linecap="butt"/>
<text transform="translate(517.94 44.20) scale(0.9656 1.0000)" font-size="16.60" fill="#111" stroke="#111" stroke-width="0.29"><tspan>GFP</tspan></text>
<text transform="translate(605.64 44.40) scale(0.9674 1.0000)" font-size="16.60" fill="#111" stroke="#111" stroke-width="0.29"><tspan>GHMT</tspan></text>
<text transform="translate(706.83 44.20) scale(0.9780 1.0000)" font-size="16.60" fill="#111" stroke="#111" stroke-width="0.29"><tspan>GFP</tspan></text>
<text transform="translate(795.85 44.40) scale(0.9632 1.0000)" font-size="16.60" fill="#111" stroke="#111" stroke-width="0.29"><tspan>GHMT</tspan></text>
<line x1="488.20" y1="50.00" x2="580.40" y2="50.00" stroke="#000" stroke-width="2.30" stroke-linecap="butt"/>
<line x1="583.40" y1="50.00" x2="675.70" y2="50.00" stroke="#000" stroke-width="2.30" stroke-linecap="butt"/>
<line x1="678.20" y1="50.00" x2="769.10" y2="50.00" stroke="#000" stroke-width="2.30" stroke-linecap="butt"/>
<line x1="773.50" y1="50.00" x2="866.30" y2="50.00" stroke="#000" stroke-width="2.30" stroke-linecap="butt"/>
<text transform="translate(872.12 44.60) scale(0.9766 1.0000)" font-size="16.60" fill="#111" stroke="#111" stroke-width="0.29"><tspan>MW (kDa)</tspan></text>
<line x1="877.00" y1="97.20" x2="891.20" y2="97.20" stroke="#000" stroke-width="2.60" stroke-linecap="butt"/>
<text transform="translate(898.22 102.80) scale(0.9860 1.0000)" font-size="16.00" fill="#111" stroke="#111" stroke-width="0.28"><tspan>50</tspan></text>
<line x1="877.00" y1="137.30" x2="891.20" y2="137.30" stroke="#000" stroke-width="2.60" stroke-linecap="butt"/>
<text transform="translate(898.22 142.90) scale(0.9860 1.0000)" font-size="16.00" fill="#111" stroke="#111" stroke-width="0.28"><tspan>50</tspan></text>
<line x1="877.00" y1="184.10" x2="891.20" y2="184.10" stroke="#000" stroke-width="2.60" stroke-linecap="butt"/>
<text transform="translate(898.24 189.70) scale(0.9949 1.0000)" font-size="16.00" fill="#111" stroke="#111" stroke-width="0.28"><tspan>37</tspan></text>
<line x1="877.00" y1="202.80" x2="891.20" y2="202.80" stroke="#000" stroke-width="2.60" stroke-linecap="butt"/>
<text transform="translate(898.24 208.40) scale(0.9949 1.0000)" font-size="16.00" fill="#111" stroke="#111" stroke-width="0.28"><tspan>37</tspan></text>
<line x1="877.00" y1="245.10" x2="891.20" y2="245.10" stroke="#000" stroke-width="2.60" stroke-linecap="butt"/>
<text transform="translate(898.24 250.70) scale(0.9949 1.0000)" font-size="16.00" fill="#111" stroke="#111" stroke-width="0.28"><tspan>37</tspan></text>
<line x1="877.00" y1="282.70" x2="891.20" y2="282.70" stroke="#000" stroke-width="2.60" stroke-linecap="butt"/>
<text transform="translate(898.24 288.30) scale(0.9949 1.0000)" font-size="16.00" fill="#111" stroke="#111" stroke-width="0.28"><tspan>37</tspan></text>
<clipPath id="cpc1"><rect x="110.20" y="403.20" width="251.00" height="39.70"/></clipPath>
<g clip-path="url(#cpc1)">
<rect x="110.20" y="403.20" width="251.00" height="39.70" fill="#a4a4a4" />
<rect x="136.09" y="400.20" width="4.0" height="45.70" fill="#c2c2c2" opacity="0.35" filter="url(#bls)"/>
<rect x="163.98" y="400.20" width="4.0" height="45.70" fill="#c2c2c2" opacity="0.35" filter="url(#bls)"/>
<rect x="191.87" y="400.20" width="4.0" height="45.70" fill="#c2c2c2" opacity="0.35" filter="url(#bls)"/>
<rect x="219.76" y="400.20" width="4.0" height="45.70" fill="#c2c2c2" opacity="0.35" filter="url(#bls)"/>
<rect x="247.64" y="400.20" width="4.0" height="45.70" fill="#c2c2c2" opacity="0.35" filter="url(#bls)"/>
<rect x="275.53" y="400.20" width="4.0" height="45.70" fill="#c2c2c2" opacity="0.35" filter="url(#bls)"/>
<rect x="303.42" y="400.20" width="4.0" height="45.70" fill="#c2c2c2" opacity="0.35" filter="url(#bls)"/>
<rect x="331.31" y="400.20" width="4.0" height="45.70" fill="#c2c2c2" opacity="0.35" filter="url(#bls)"/>
<circle cx="298.3" cy="425.4" r="1.9" fill="#333" opacity="0.85" filter="url(#bl05)"/>
<rect x="110.20" y="403.20" width="251.00" height="39.70" filter="url(#noiseD)" opacity="0.088"/>
<rect x="110.20" y="403.20" width="251.00" height="39.70" filter="url(#noiseL)" opacity="0.072"/>
<rect x="112.43" y="414.70" width="23.43" height="6.40" rx="3.20" fill="#000" opacity="0.37" filter="url(#bl1)" transform="rotate(0.0 124.14 417.90)"/>
<rect x="140.32" y="414.70" width="23.43" height="6.40" rx="3.20" fill="#000" opacity="0.39" filter="url(#bl1)" transform="rotate(0.0 152.03 417.90)"/>
<rect x="168.21" y="414.70" width="23.43" height="6.40" rx="3.20" fill="#000" opacity="0.30" filter="url(#bl1)" transform="rotate(0.0 179.92 417.90)"/>
<rect x="196.10" y="414.70" width="23.43" height="6.40" rx="3.20" fill="#000" opacity="0.60" filter="url(#bl1)" transform="rotate(0.0 207.81 417.90)"/>
<rect x="223.99" y="414.70" width="23.43" height="6.40" rx="3.20" fill="#000" opacity="0.57" filter="url(#bl1)" transform="rotate(0.0 235.70 417.90)"/>
<rect x="251.88" y="414.70" width="23.43" height="6.40" rx="3.20" fill="#000" opacity="0.53" filter="url(#bl1)" transform="rotate(0.0 263.59 417.90)"/>
<rect x="279.76" y="414.70" width="23.43" height="6.40" rx="3.20" fill="#000" opacity="0.28" filter="url(#bl1)" transform="rotate(0.0 291.48 417.90)"/>
<rect x="307.65" y="414.70" width="23.43" height="6.40" rx="3.20" fill="#000" opacity="0.23" filter="url(#bl1)" transform="rotate(0.0 319.37 417.90)"/>
<rect x="335.54" y="414.70" width="23.43" height="6.40" rx="3.20" fill="#000" opacity="0.23" filter="url(#bl1)" transform="rotate(0.0 347.26 417.90)"/>
</g>
<clipPath id="cpc2"><rect x="110.20" y="452.90" width="251.00" height="33.40"/></clipPath>
<g clip-path="url(#cpc2)">
<rect x="110.20" y="452.90" width="251.00" height="33.40" fill="#b9b9b9" />
<rect x="105.20" y="449.00" width="261.00" height="11.00" fill="#8a8a8a" opacity="0.60" filter="url(#bl3)"/>
<rect x="105.20" y="478.00" width="261.00" height="12.00" fill="#c2c2c2" opacity="0.60" filter="url(#bl3)"/>
<rect x="110.20" y="452.90" width="251.00" height="33.40" filter="url(#noiseD)" opacity="0.088"/>
<rect x="110.20" y="452.90" width="251.00" height="33.40" filter="url(#noiseL)" opacity="0.072"/>
<rect x="111.87" y="462.65" width="24.54" height="9.50" rx="4.75" fill="#000" opacity="1.00" filter="url(#bl1)" transform="rotate(0.0 124.14 467.40)"/>
<rect x="140.60" y="462.50" width="22.87" height="9.00" rx="4.50" fill="#000" opacity="1.00" filter="url(#bl1)" transform="rotate(0.0 152.03 467.00)"/>
<rect x="167.93" y="462.85" width="23.98" height="9.50" rx="4.75" fill="#000" opacity="1.00" filter="url(#bl1)" transform="rotate(0.0 179.92 467.60)"/>
<rect x="194.70" y="461.60" width="26.22" height="12.00" rx="6.00" fill="#000" opacity="1.00" filter="url(#bl1)" transform="rotate(0.0 207.81 467.60)"/>
<rect x="222.59" y="461.20" width="26.22" height="12.00" rx="6.00" fill="#000" opacity="1.00" filter="url(#bl1)" transform="rotate(0.0 235.70 467.20)"/>
<rect x="250.20" y="461.75" width="26.77" height="12.50" rx="6.25" fill="#000" opacity="1.00" filter="url(#bl1)" transform="rotate(0.0 263.59 468.00)"/>
<rect x="280.60" y="464.40" width="21.75" height="8.00" rx="4.00" fill="#000" opacity="1.00" filter="url(#bl1)" transform="rotate(0.0 291.48 468.40)"/>
<rect x="308.49" y="464.65" width="21.75" height="7.50" rx="3.75" fill="#000" opacity="1.00" filter="url(#bl1)" transform="rotate(0.0 319.37 468.40)"/>
<rect x="335.82" y="464.40" width="22.87" height="8.00" rx="4.00" fill="#000" opacity="1.00" filter="url(#bl1)" transform="rotate(0.0 347.26 468.40)"/>
</g>
<clipPath id="cpc3"><rect x="110.20" y="500.80" width="251.00" height="45.00"/></clipPath>
<g clip-path="url(#cpc3)">
<rect x="110.20" y="500.80" width="251.00" height="45.00" fill="#c6c6c6" />
<rect x="105.20" y="498.00" width="261.00" height="14.00" fill="#d4d4d4" opacity="0.70" filter="url(#bl3)"/>
<rect x="194" y="531" width="84" height="20" fill="#777" opacity="0.75" filter="url(#bl1)"/>
<rect x="110" y="531" width="84" height="20" fill="#999" opacity="0.45" filter="url(#bl1)"/>
<rect x="110.20" y="500.80" width="251.00" height="45.00" filter="url(#noiseD)" opacity="0.088"/>
<rect x="110.20" y="500.80" width="251.00" height="45.00" filter="url(#noiseL)" opacity="0.072"/>
<rect x="109.92" y="519.20" width="28.45" height="10.00" rx="5.00" fill="#000" opacity="1.00" filter="url(#bl1)" transform="rotate(0.0 124.14 524.20)"/>
<rect x="137.81" y="519.95" width="28.45" height="10.50" rx="5.25" fill="#000" opacity="1.00" filter="url(#bl1)" transform="rotate(0.0 152.03 525.20)"/>
<rect x="165.70" y="521.40" width="28.45" height="10.00" rx="5.00" fill="#000" opacity="1.00" filter="url(#bl1)" transform="rotate(0.0 179.92 526.40)"/>
<rect x="193.31" y="522.30" width="29.00" height="11.00" rx="5.50" fill="#000" opacity="1.00" filter="url(#bl1)" transform="rotate(0.0 207.81 527.80)"/>
<rect x="221.20" y="522.35" width="29.00" height="10.50" rx="5.25" fill="#000" opacity="1.00" filter="url(#bl1)" transform="rotate(0.0 235.70 527.60)"/>
<rect x="249.09" y="521.90" width="29.00" height="11.00" rx="5.50" fill="#000" opacity="1.00" filter="url(#bl1)" transform="rotate(0.0 263.59 527.40)"/>
<rect x="279.21" y="522.70" width="24.54" height="6.60" rx="3.30" fill="#000" opacity="1.00" filter="url(#bl1)" transform="rotate(0.0 291.48 526.00)"/>
<rect x="307.10" y="523.00" width="24.54" height="6.40" rx="3.20" fill="#000" opacity="1.00" filter="url(#bl1)" transform="rotate(0.0 319.37 526.20)"/>
<rect x="334.98" y="522.90" width="24.54" height="6.60" rx="3.30" fill="#000" opacity="1.00" filter="url(#bl1)" transform="rotate(0.0 347.26 526.20)"/>
</g>
<clipPath id="cpc4"><rect x="110.20" y="557.60" width="251.00" height="39.40"/></clipPath>
<g clip-path="url(#cpc4)">
<rect x="110.20" y="557.60" width="251.00" height="39.40" fill="#cfcfcf" />
<rect x="105.20" y="554.00" width="261.00" height="12.00" fill="#c4c4c4" opacity="0.60" filter="url(#bl3)"/>
<rect x="110.20" y="557.60" width="251.00" height="39.40" filter="url(#noiseD)" opacity="0.088"/>
<rect x="110.20" y="557.60" width="251.00" height="39.40" filter="url(#noiseL)" opacity="0.072"/>
<rect x="111.59" y="574.00" width="25.10" height="5.80" rx="2.90" fill="#000" opacity="0.86" filter="url(#bl1)" transform="rotate(0.0 124.14 576.90)"/>
<rect x="139.48" y="574.40" width="25.10" height="5.80" rx="2.90" fill="#000" opacity="0.80" filter="url(#bl1)" transform="rotate(0.0 152.03 577.30)"/>
<rect x="167.37" y="575.20" width="25.10" height="5.80" rx="2.90" fill="#000" opacity="0.63" filter="url(#bl1)" transform="rotate(0.0 179.92 578.10)"/>
<rect x="195.26" y="575.20" width="25.10" height="5.80" rx="2.90" fill="#000" opacity="0.97" filter="url(#bl1)" transform="rotate(0.0 207.81 578.10)"/>
<rect x="223.15" y="575.20" width="25.10" height="5.80" rx="2.90" fill="#000" opacity="0.93" filter="url(#bl1)" transform="rotate(0.0 235.70 578.10)"/>
<rect x="251.04" y="575.20" width="25.10" height="5.80" rx="2.90" fill="#000" opacity="0.99" filter="url(#bl1)" transform="rotate(0.0 263.59 578.10)"/>
<rect x="278.93" y="575.20" width="25.10" height="5.80" rx="2.90" fill="#000" opacity="0.97" filter="url(#bl1)" transform="rotate(0.0 291.48 578.10)"/>
<rect x="306.82" y="575.40" width="25.10" height="5.80" rx="2.90" fill="#000" opacity="0.95" filter="url(#bl1)" transform="rotate(0.0 319.37 578.30)"/>
<rect x="334.71" y="575.40" width="25.10" height="5.80" rx="2.90" fill="#000" opacity="0.93" filter="url(#bl1)" transform="rotate(0.0 347.26 578.30)"/>
</g>
<text transform="translate(36.67 428.20) scale(1.0348 1.0000)" font-size="16.20" fill="#111" stroke="#111" stroke-width="0.27"><tspan>p-Smad2</tspan></text>
<text transform="translate(51.99 479.10) scale(1.0265 1.0000)" font-size="16.20" fill="#111" stroke="#111" stroke-width="0.27"><tspan>Smad2</tspan></text>
<text transform="translate(58.35 530.40) scale(1.0238 1.0000)" font-size="16.20" fill="#111" stroke="#111" stroke-width="0.27"><tspan>αSMA</tspan></text>
<text transform="translate(45.61 582.70) scale(1.0347 1.0000)" font-size="16.20" fill="#111" stroke="#111" stroke-width="0.27"><tspan>GAPDH</tspan></text>
<text transform="translate(210.95 352.40) scale(0.9632 1.0000)" font-size="16.60" fill="#111" stroke="#111" stroke-width="0.29"><tspan>GHMT</tspan></text>
<line x1="110.00" y1="360.70" x2="359.80" y2="360.70" stroke="#000" stroke-width="2.20" stroke-linecap="butt"/>
<text transform="translate(127.39 383.90) scale(0.9974 1.0000)" font-size="16.60" fill="#111" stroke="#111" stroke-width="0.28"><tspan>Day 5</tspan></text>
<text transform="translate(212.92 383.90) scale(0.9741 1.0000)" font-size="16.60" fill="#111" stroke="#111" stroke-width="0.29"><tspan>Day 7</tspan></text>
<text transform="translate(293.80 383.90) scale(0.9892 1.0000)" font-size="16.60" fill="#111" stroke="#111" stroke-width="0.28"><tspan>Day 14</tspan></text>
<line x1="109.50" y1="393.90" x2="188.40" y2="393.90" stroke="#000" stroke-width="2.30" stroke-linecap="butt"/>
<line x1="195.40" y1="393.90" x2="274.40" y2="393.90" stroke="#000" stroke-width="2.30" stroke-linecap="butt"/>
<line x1="280.70" y1="393.90" x2="359.80" y2="393.90" stroke="#000" stroke-width="2.30" stroke-linecap="butt"/>
<text transform="translate(366.51 380.10) scale(0.9863 1.0000)" font-size="16.60" fill="#111" stroke="#111" stroke-width="0.28"><tspan>MW (kDa)</tspan></text>
<line x1="367.60" y1="434.70" x2="382.80" y2="434.70" stroke="#000" stroke-width="2.60" stroke-linecap="butt"/>
<text transform="translate(391.64 440.30) scale(0.9497 1.0000)" font-size="16.00" fill="#111" stroke="#111" stroke-width="0.29"><tspan>50</tspan></text>
<line x1="367.60" y1="484.10" x2="382.80" y2="484.10" stroke="#000" stroke-width="2.60" stroke-linecap="butt"/>
<text transform="translate(391.64 489.70) scale(0.9497 1.0000)" font-size="16.00" fill="#111" stroke="#111" stroke-width="0.29"><tspan>50</tspan></text>
<line x1="367.60" y1="503.40" x2="382.80" y2="503.40" stroke="#000" stroke-width="2.60" stroke-linecap="butt"/>
<text transform="translate(391.64 509.00) scale(0.9497 1.0000)" font-size="16.00" fill="#111" stroke="#111" stroke-width="0.29"><tspan>50</tspan></text>
<line x1="367.60" y1="558.00" x2="382.80" y2="558.00" stroke="#000" stroke-width="2.60" stroke-linecap="butt"/>
<text transform="translate(391.67 563.50) scale(0.9583 1.0000)" font-size="16.00" fill="#111" stroke="#111" stroke-width="0.29"><tspan>37</tspan></text>
<line x1="156.20" y1="618.30" x2="156.20" y2="826.30" stroke="#000" stroke-width="2.60" stroke-linecap="butt"/>
<line x1="154.90" y1="825.00" x2="291.20" y2="825.00" stroke="#000" stroke-width="2.60" stroke-linecap="butt"/>
<line x1="151.80" y1="825.00" x2="156.20" y2="825.00" stroke="#000" stroke-width="1.80" stroke-linecap="butt"/>
<text transform="translate(138.15 830.70) scale(0.8625 1.0000)" font-size="16.60" fill="#111" stroke="#111" stroke-width="0.32"><tspan>0</tspan></text>
<line x1="151.80" y1="799.27" x2="156.20" y2="799.27" stroke="#000" stroke-width="1.80" stroke-linecap="butt"/>
<text transform="translate(124.77 804.98) scale(0.9342 1.0000)" font-size="16.60" fill="#111" stroke="#111" stroke-width="0.30"><tspan>0.2</tspan></text>
<line x1="151.80" y1="773.55" x2="156.20" y2="773.55" stroke="#000" stroke-width="1.80" stroke-linecap="butt"/>
<text transform="translate(124.43 779.25) scale(0.9349 1.0000)" font-size="16.60" fill="#111" stroke="#111" stroke-width="0.30"><tspan>0.4</tspan></text>
<line x1="151.80" y1="747.83" x2="156.20" y2="747.83" stroke="#000" stroke-width="1.80" stroke-linecap="butt"/>
<text transform="translate(124.67 753.53) scale(0.9344 1.0000)" font-size="16.60" fill="#111" stroke="#111" stroke-width="0.30"><tspan>0.6</tspan></text>
<line x1="151.80" y1="722.10" x2="156.20" y2="722.10" stroke="#000" stroke-width="1.80" stroke-linecap="butt"/>
<text transform="translate(124.66 727.80) scale(0.9344 1.0000)" font-size="16.60" fill="#111" stroke="#111" stroke-width="0.30"><tspan>0.8</tspan></text>
<line x1="151.80" y1="696.38" x2="156.20" y2="696.38" stroke="#000" stroke-width="1.80" stroke-linecap="butt"/>
<text transform="translate(138.39 702.08) scale(0.8502 1.0000)" font-size="16.60" fill="#111" stroke="#111" stroke-width="0.33"><tspan>1</tspan></text>
<line x1="151.80" y1="670.65" x2="156.20" y2="670.65" stroke="#000" stroke-width="1.80" stroke-linecap="butt"/>
<text transform="translate(124.80 676.35) scale(0.9330 1.0000)" font-size="16.60" fill="#111" stroke="#111" stroke-width="0.30"><tspan>1.2</tspan></text>
<line x1="151.80" y1="644.93" x2="156.20" y2="644.93" stroke="#000" stroke-width="1.80" stroke-linecap="butt"/>
<text transform="translate(124.46 650.63) scale(0.9337 1.0000)" font-size="16.60" fill="#111" stroke="#111" stroke-width="0.30"><tspan>1.4</tspan></text>
<line x1="151.80" y1="619.20" x2="156.20" y2="619.20" stroke="#000" stroke-width="1.80" stroke-linecap="butt"/>
<text transform="translate(124.70 624.90) scale(0.9332 1.0000)" font-size="16.60" fill="#111" stroke="#111" stroke-width="0.30"><tspan>1.6</tspan></text>
<rect x="159.70" y="669.36" width="20.60" height="154.64" fill="#63a9e2" />
<line x1="170.00" y1="641.71" x2="170.00" y2="669.36" stroke="#111" stroke-width="1.35" stroke-linecap="butt"/>
<line x1="167.80" y1="641.71" x2="172.20" y2="641.71" stroke="#111" stroke-width="1.65" stroke-linecap="butt"/>
<rect x="187.00" y="746.54" width="20.30" height="77.46" fill="#623a96" />
<line x1="197.15" y1="739.46" x2="197.15" y2="746.54" stroke="#111" stroke-width="1.35" stroke-linecap="butt"/>
<line x1="194.95" y1="739.46" x2="199.35" y2="739.46" stroke="#111" stroke-width="1.65" stroke-linecap="butt"/>
<rect x="240.90" y="728.92" width="20.80" height="95.08" fill="#63a9e2" />
<line x1="251.30" y1="723.39" x2="251.30" y2="728.92" stroke="#111" stroke-width="1.35" stroke-linecap="butt"/>
<line x1="249.10" y1="723.39" x2="253.50" y2="723.39" stroke="#111" stroke-width="1.65" stroke-linecap="butt"/>
<rect x="268.40" y="770.33" width="20.30" height="53.67" fill="#623a96" />
<line x1="278.55" y1="764.55" x2="278.55" y2="770.33" stroke="#111" stroke-width="1.35" stroke-linecap="butt"/>
<line x1="276.35" y1="764.55" x2="280.75" y2="764.55" stroke="#111" stroke-width="1.65" stroke-linecap="butt"/>
<text transform="translate(161.68 634.80) scale(0.9759 1.0000)" font-size="12.20" fill="#111" stroke="#111" stroke-width="0.29"><tspan font-style="italic">P</tspan><tspan>&gt;0.05</tspan></text>
<text transform="translate(182.89 732.10) scale(0.9602 1.0000)" font-size="12.20" fill="#111" stroke="#111" stroke-width="0.29"><tspan font-style="italic">P</tspan><tspan>&lt;0.05</tspan></text>
<text transform="translate(232.99 716.10) scale(0.9470 1.0000)" font-size="12.20" fill="#111" stroke="#111" stroke-width="0.30"><tspan font-style="italic">P</tspan><tspan>&gt;0.05</tspan></text>
<text transform="translate(263.49 757.20) scale(0.9523 1.0000)" font-size="12.20" fill="#111" stroke="#111" stroke-width="0.29"><tspan font-style="italic">P</tspan><tspan>&lt;0.05</tspan></text>
<text transform="translate(147.20 870.40) rotate(-45.0) scale(1.0081 1.0000) translate(-1.36 0)" font-size="16.60" fill="#111" stroke="#111" stroke-width="0.28"><tspan>Day 7</tspan></text>
<text transform="translate(170.70 876.60) rotate(-45.0) scale(0.9833 1.0000) translate(-1.36 0)" font-size="16.60" fill="#111" stroke="#111" stroke-width="0.28"><tspan>Day 14</tspan></text>
<text transform="translate(231.20 870.40) rotate(-45.0) scale(1.0081 1.0000) translate(-1.36 0)" font-size="16.60" fill="#111" stroke="#111" stroke-width="0.28"><tspan>Day 7</tspan></text>
<text transform="translate(252.60 876.60) rotate(-45.0) scale(0.9833 1.0000) translate(-1.36 0)" font-size="16.60" fill="#111" stroke="#111" stroke-width="0.28"><tspan>Day 14</tspan></text>
<line x1="148.90" y1="883.40" x2="216.60" y2="883.40" stroke="#000" stroke-width="2.30" stroke-linecap="butt"/>
<line x1="239.10" y1="883.40" x2="295.00" y2="883.40" stroke="#000" stroke-width="2.30" stroke-linecap="butt"/>
<text transform="translate(149.09 901.60) scale(0.9885 1.0000)" font-size="16.60" fill="#111" stroke="#111" stroke-width="0.28"><tspan>p-Smad2</tspan></text>
<text transform="translate(244.68 901.60) scale(0.9679 1.0000)" font-size="16.60" fill="#111" stroke="#111" stroke-width="0.29"><tspan>αSMA</tspan></text>
<text transform="translate(89.00 810.60) rotate(-90.0) scale(0.9956 1.0000) translate(-1.36 0)" font-size="16.60" fill="#111" stroke="#111" stroke-width="0.28"><tspan>Relative protein levels to</tspan></text>
<text transform="translate(109.00 741.00) rotate(-90.0) scale(0.9996 1.0000) translate(-0.70 0)" font-size="16.60" fill="#111" stroke="#111" stroke-width="0.28"><tspan>day 5</tspan></text>
<line x1="526.60" y1="356.10" x2="526.60" y2="580.60" stroke="#000" stroke-width="2.30" stroke-linecap="butt"/>
<line x1="525.45" y1="579.90" x2="931.20" y2="579.90" stroke="#000" stroke-width="2.60" stroke-linecap="butt"/>
<line x1="522.80" y1="579.60" x2="526.60" y2="579.60" stroke="#000" stroke-width="1.70" stroke-linecap="butt"/>
<text transform="translate(508.04 585.30) scale(0.9323 1.0000)" font-size="16.00" fill="#111" stroke="#111" stroke-width="0.30"><tspan>0</tspan></text>
<line x1="522.80" y1="535.06" x2="526.60" y2="535.06" stroke="#000" stroke-width="1.70" stroke-linecap="butt"/>
<text transform="translate(494.03 540.76) scale(1.0070 1.0000)" font-size="16.00" fill="#111" stroke="#111" stroke-width="0.28"><tspan>0.5</tspan></text>
<line x1="522.80" y1="490.52" x2="526.60" y2="490.52" stroke="#000" stroke-width="1.70" stroke-linecap="butt"/>
<text transform="translate(508.29 496.22) scale(0.9195 1.0000)" font-size="16.00" fill="#111" stroke="#111" stroke-width="0.30"><tspan>1</tspan></text>
<line x1="522.80" y1="445.98" x2="526.60" y2="445.98" stroke="#000" stroke-width="1.70" stroke-linecap="butt"/>
<text transform="translate(494.06 451.68) scale(1.0058 1.0000)" font-size="16.00" fill="#111" stroke="#111" stroke-width="0.28"><tspan>1.5</tspan></text>
<line x1="522.80" y1="401.44" x2="526.60" y2="401.44" stroke="#000" stroke-width="1.70" stroke-linecap="butt"/>
<text transform="translate(508.25 407.14) scale(0.9265 1.0000)" font-size="16.00" fill="#111" stroke="#111" stroke-width="0.30"><tspan>2</tspan></text>
<line x1="522.80" y1="356.90" x2="526.60" y2="356.90" stroke="#000" stroke-width="1.70" stroke-linecap="butt"/>
<text transform="translate(494.04 362.60) scale(1.0067 1.0000)" font-size="16.00" fill="#111" stroke="#111" stroke-width="0.28"><tspan>2.5</tspan></text>
<rect x="528.90" y="490.52" width="16.30" height="88.28" fill="#63a9e2" />
<line x1="537.05" y1="485.62" x2="537.05" y2="490.52" stroke="#111" stroke-width="1.25" stroke-linecap="butt"/>
<line x1="535.35" y1="485.62" x2="538.75" y2="485.62" stroke="#111" stroke-width="1.55" stroke-linecap="butt"/>
<rect x="550.20" y="403.67" width="16.30" height="175.13" fill="#cf222a" />
<line x1="558.35" y1="395.20" x2="558.35" y2="403.67" stroke="#111" stroke-width="1.25" stroke-linecap="butt"/>
<line x1="556.65" y1="395.20" x2="560.05" y2="395.20" stroke="#111" stroke-width="1.55" stroke-linecap="butt"/>
<rect x="571.50" y="490.52" width="16.30" height="88.28" fill="#63a9e2" />
<line x1="579.65" y1="469.14" x2="579.65" y2="490.52" stroke="#111" stroke-width="1.25" stroke-linecap="butt"/>
<line x1="577.95" y1="469.14" x2="581.35" y2="469.14" stroke="#111" stroke-width="1.55" stroke-linecap="butt"/>
<rect x="592.80" y="419.70" width="16.30" height="159.10" fill="#cf222a" />
<line x1="600.95" y1="390.75" x2="600.95" y2="419.70" stroke="#111" stroke-width="1.25" stroke-linecap="butt"/>
<line x1="599.25" y1="390.75" x2="602.65" y2="390.75" stroke="#111" stroke-width="1.55" stroke-linecap="butt"/>
<rect x="635.40" y="490.52" width="16.30" height="88.28" fill="#63a9e2" />
<line x1="643.55" y1="477.16" x2="643.55" y2="490.52" stroke="#111" stroke-width="1.25" stroke-linecap="butt"/>
<line x1="641.85" y1="477.16" x2="645.25" y2="477.16" stroke="#111" stroke-width="1.55" stroke-linecap="butt"/>
<rect x="656.70" y="435.74" width="16.30" height="143.06" fill="#cf222a" />
<line x1="664.85" y1="424.60" x2="664.85" y2="435.74" stroke="#111" stroke-width="1.25" stroke-linecap="butt"/>
<line x1="663.15" y1="424.60" x2="666.55" y2="424.60" stroke="#111" stroke-width="1.55" stroke-linecap="butt"/>
<rect x="678.00" y="490.52" width="16.30" height="88.28" fill="#63a9e2" />
<line x1="686.15" y1="487.85" x2="686.15" y2="490.52" stroke="#111" stroke-width="1.25" stroke-linecap="butt"/>
<line x1="684.45" y1="487.85" x2="687.85" y2="487.85" stroke="#111" stroke-width="1.55" stroke-linecap="butt"/>
<rect x="699.30" y="462.19" width="16.30" height="116.61" fill="#cf222a" />
<line x1="707.45" y1="457.29" x2="707.45" y2="462.19" stroke="#111" stroke-width="1.25" stroke-linecap="butt"/>
<line x1="705.75" y1="457.29" x2="709.15" y2="457.29" stroke="#111" stroke-width="1.55" stroke-linecap="butt"/>
<rect x="742.10" y="490.52" width="16.30" height="88.28" fill="#63a9e2" />
<line x1="750.25" y1="481.61" x2="750.25" y2="490.52" stroke="#111" stroke-width="1.25" stroke-linecap="butt"/>
<line x1="748.55" y1="481.61" x2="751.95" y2="481.61" stroke="#111" stroke-width="1.55" stroke-linecap="butt"/>
<rect x="763.40" y="485.18" width="16.30" height="93.62" fill="#cf222a" />
<line x1="771.55" y1="473.59" x2="771.55" y2="485.18" stroke="#111" stroke-width="1.25" stroke-linecap="butt"/>
<line x1="769.85" y1="473.59" x2="773.25" y2="473.59" stroke="#111" stroke-width="1.55" stroke-linecap="butt"/>
<rect x="784.70" y="490.52" width="16.30" height="88.28" fill="#63a9e2" />
<line x1="792.85" y1="480.72" x2="792.85" y2="490.52" stroke="#111" stroke-width="1.25" stroke-linecap="butt"/>
<line x1="791.15" y1="480.72" x2="794.55" y2="480.72" stroke="#111" stroke-width="1.55" stroke-linecap="butt"/>
<rect x="806.00" y="514.84" width="16.30" height="63.96" fill="#cf222a" />
<line x1="814.15" y1="497.02" x2="814.15" y2="514.84" stroke="#111" stroke-width="1.25" stroke-linecap="butt"/>
<line x1="812.45" y1="497.02" x2="815.85" y2="497.02" stroke="#111" stroke-width="1.55" stroke-linecap="butt"/>
<rect x="848.60" y="490.52" width="16.30" height="88.28" fill="#63a9e2" />
<line x1="856.75" y1="478.94" x2="856.75" y2="490.52" stroke="#111" stroke-width="1.25" stroke-linecap="butt"/>
<line x1="855.05" y1="478.94" x2="858.45" y2="478.94" stroke="#111" stroke-width="1.55" stroke-linecap="butt"/>
<rect x="869.90" y="510.38" width="16.30" height="68.42" fill="#cf222a" />
<line x1="878.05" y1="500.59" x2="878.05" y2="510.38" stroke="#111" stroke-width="1.25" stroke-linecap="butt"/>
<line x1="876.35" y1="500.59" x2="879.75" y2="500.59" stroke="#111" stroke-width="1.55" stroke-linecap="butt"/>
<rect x="891.70" y="490.52" width="16.30" height="88.28" fill="#63a9e2" />
<line x1="899.85" y1="477.16" x2="899.85" y2="490.52" stroke="#111" stroke-width="1.25" stroke-linecap="butt"/>
<line x1="898.15" y1="477.16" x2="901.55" y2="477.16" stroke="#111" stroke-width="1.55" stroke-linecap="butt"/>
<rect x="913.00" y="525.88" width="16.30" height="52.92" fill="#cf222a" />
<line x1="921.15" y1="517.42" x2="921.15" y2="525.88" stroke="#111" stroke-width="1.25" stroke-linecap="butt"/>
<line x1="919.45" y1="517.42" x2="922.85" y2="517.42" stroke="#111" stroke-width="1.55" stroke-linecap="butt"/>
<text transform="translate(531.40 383.30) scale(0.9159 1.0000)" font-size="12.30" fill="#111" stroke="#111" stroke-width="0.31"><tspan font-style="italic">P</tspan><tspan>&lt;0.05</tspan></text>
<line x1="531.60" y1="392.00" x2="567.30" y2="392.00" stroke="#000" stroke-width="2.40" stroke-linecap="butt"/>
<text transform="translate(574.60 377.30) scale(0.9289 1.0000)" font-size="12.30" fill="#111" stroke="#111" stroke-width="0.30"><tspan font-style="italic">P</tspan><tspan>&lt;0.05</tspan></text>
<line x1="574.50" y1="385.80" x2="609.60" y2="385.80" stroke="#000" stroke-width="2.40" stroke-linecap="butt"/>
<text transform="translate(636.00 412.90) scale(0.9289 1.0000)" font-size="12.30" fill="#111" stroke="#111" stroke-width="0.30"><tspan font-style="italic">P</tspan><tspan>&lt;0.05</tspan></text>
<line x1="635.40" y1="420.90" x2="671.20" y2="420.90" stroke="#000" stroke-width="2.40" stroke-linecap="butt"/>
<text transform="translate(677.59 441.90) scale(0.9393 1.0000)" font-size="12.30" fill="#111" stroke="#111" stroke-width="0.30"><tspan font-style="italic">P</tspan><tspan>&lt;0.05</tspan></text>
<line x1="678.00" y1="450.70" x2="714.00" y2="450.70" stroke="#000" stroke-width="2.40" stroke-linecap="butt"/>
<text transform="translate(736.69 460.00) scale(0.9549 1.0000)" font-size="12.30" fill="#111" stroke="#111" stroke-width="0.29"><tspan font-style="italic">P</tspan><tspan>&gt;0.05</tspan></text>
<line x1="739.10" y1="468.50" x2="774.70" y2="468.50" stroke="#000" stroke-width="2.40" stroke-linecap="butt"/>
<text transform="translate(783.48 466.20) scale(0.9680 1.0000)" font-size="12.30" fill="#111" stroke="#111" stroke-width="0.29"><tspan font-style="italic">P</tspan><tspan>&gt;0.05</tspan></text>
<line x1="786.40" y1="474.50" x2="822.30" y2="474.50" stroke="#000" stroke-width="2.40" stroke-linecap="butt"/>
<text transform="translate(846.89 466.20) scale(0.9549 1.0000)" font-size="12.30" fill="#111" stroke="#111" stroke-width="0.29"><tspan font-style="italic">P</tspan><tspan>&gt;0.05</tspan></text>
<line x1="847.30" y1="474.50" x2="882.90" y2="474.50" stroke="#000" stroke-width="2.40" stroke-linecap="butt"/>
<text transform="translate(891.99 466.20) scale(0.9549 1.0000)" font-size="12.30" fill="#111" stroke="#111" stroke-width="0.29"><tspan font-style="italic">P</tspan><tspan>&lt;0.05</tspan></text>
<line x1="894.90" y1="474.50" x2="930.70" y2="474.50" stroke="#000" stroke-width="2.40" stroke-linecap="butt"/>
<line x1="529.60" y1="586.60" x2="567.20" y2="586.60" stroke="#000" stroke-width="2.40" stroke-linecap="butt"/>
<text transform="translate(524.71 606.50) scale(0.9805 1.0000)" font-size="16.60" fill="#111" stroke="#111" stroke-width="0.29"><tspan>Day 5</tspan></text>
<line x1="572.00" y1="586.60" x2="609.60" y2="586.60" stroke="#000" stroke-width="2.40" stroke-linecap="butt"/>
<text transform="translate(571.29 606.50) scale(0.9959 1.0000)" font-size="16.60" fill="#111" stroke="#111" stroke-width="0.28"><tspan>Day 7</tspan></text>
<line x1="633.40" y1="586.60" x2="671.20" y2="586.60" stroke="#000" stroke-width="2.40" stroke-linecap="butt"/>
<text transform="translate(628.22 606.50) scale(0.9781 1.0000)" font-size="16.60" fill="#111" stroke="#111" stroke-width="0.29"><tspan>Day 5</tspan></text>
<line x1="680.50" y1="586.60" x2="718.30" y2="586.60" stroke="#000" stroke-width="2.40" stroke-linecap="butt"/>
<text transform="translate(680.12 606.50) scale(0.9741 1.0000)" font-size="16.60" fill="#111" stroke="#111" stroke-width="0.29"><tspan>Day 7</tspan></text>
<line x1="742.10" y1="586.60" x2="779.70" y2="586.60" stroke="#000" stroke-width="2.40" stroke-linecap="butt"/>
<text transform="translate(736.72 606.50) scale(0.9781 1.0000)" font-size="16.60" fill="#111" stroke="#111" stroke-width="0.29"><tspan>Day 5</tspan></text>
<line x1="784.70" y1="586.60" x2="821.80" y2="586.60" stroke="#000" stroke-width="2.40" stroke-linecap="butt"/>
<text transform="translate(784.31 606.50) scale(0.9814 1.0000)" font-size="16.60" fill="#111" stroke="#111" stroke-width="0.29"><tspan>Day 7</tspan></text>
<line x1="850.60" y1="586.60" x2="887.90" y2="586.60" stroke="#000" stroke-width="2.40" stroke-linecap="butt"/>
<text transform="translate(845.22 606.50) scale(0.9781 1.0000)" font-size="16.60" fill="#111" stroke="#111" stroke-width="0.29"><tspan>Day 5</tspan></text>
<line x1="893.20" y1="586.60" x2="930.50" y2="586.60" stroke="#000" stroke-width="2.40" stroke-linecap="butt"/>
<text transform="translate(892.83 606.50) scale(0.9716 1.0000)" font-size="16.60" fill="#111" stroke="#111" stroke-width="0.29"><tspan>Day 7</tspan></text>
<line x1="529.60" y1="617.40" x2="609.60" y2="617.40" stroke="#000" stroke-width="2.40" stroke-linecap="butt"/>
<text transform="translate(535.78 638.30) scale(1.0007 1.0000)" font-size="16.60" fill="#111" stroke="#111" stroke-width="0.28"><tspan>p-Smad2</tspan></text>
<line x1="633.40" y1="617.40" x2="713.30" y2="617.40" stroke="#000" stroke-width="2.40" stroke-linecap="butt"/>
<text transform="translate(650.67 638.30) scale(0.9746 1.0000)" font-size="16.60" fill="#111" stroke="#111" stroke-width="0.29"><tspan>αSMA</tspan></text>
<line x1="742.10" y1="617.40" x2="821.80" y2="617.40" stroke="#000" stroke-width="2.40" stroke-linecap="butt"/>
<text transform="translate(764.31 638.30) scale(0.9758 1.0000)" font-size="16.60" fill="#111" stroke="#111" stroke-width="0.29"><tspan>Snail</tspan></text>
<line x1="850.60" y1="617.40" x2="930.50" y2="617.40" stroke="#000" stroke-width="2.40" stroke-linecap="butt"/>
<text transform="translate(874.60 638.30) scale(0.9936 1.0000)" font-size="16.60" fill="#111" stroke="#111" stroke-width="0.28"><tspan>Slug</tspan></text>
<text transform="translate(480.00 576.50) rotate(-90.0) scale(0.9869 1.0000) translate(-1.36 0)" font-size="16.60" fill="#111" stroke="#111" stroke-width="0.28"><tspan>Relative protein levels to GFP</tspan></text>
<rect x="803.30" y="364.20" width="19.70" height="9.70" fill="#63a9e2" />
<rect x="803.30" y="388.00" width="19.70" height="9.70" fill="#cf222a" />
<text transform="translate(829.16 373.30) scale(0.9458 1.0000)" font-size="12.40" fill="#111" stroke="#111" stroke-width="0.30"><tspan>GFP</tspan></text>
<text transform="translate(829.17 397.10) scale(0.9243 1.0000)" font-size="12.40" fill="#111" stroke="#111" stroke-width="0.30"><tspan>GHMT</tspan></text>
</svg>
</body></html>
